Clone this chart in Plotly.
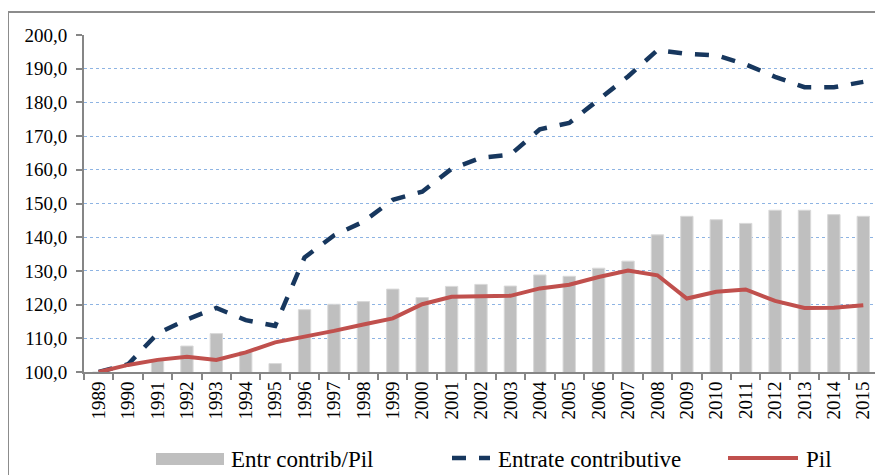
import plotly.graph_objects as go

years = [str(y) for y in range(1989, 2016)]
entr_pil = [100.0, 99.7, 103.5, 107.7, 111.4, 106.0, 102.5, 118.5, 120.1, 120.9,
            124.6, 122.1, 125.4, 126.0, 125.5, 128.8, 128.4, 130.8, 132.9, 140.7,
            146.2, 145.2, 144.1, 148.0, 148.0, 146.7, 146.2]
entrate = [100.0, 102.3, 111.4, 115.6, 119.0, 115.4, 113.7, 134.0, 140.5, 144.6,
           151.1, 153.5, 160.3, 163.6, 164.5, 172.0, 173.9, 180.7, 187.7, 195.5,
           194.4, 194.0, 191.3, 187.6, 184.5, 184.5, 186.1]
pil = [100.0, 102.1, 103.6, 104.5, 103.6, 105.8, 108.8, 110.4, 112.2, 114.1,
       115.9, 120.1, 122.3, 122.5, 122.6, 124.8, 125.9, 128.2, 130.1, 128.7,
       121.8, 123.8, 124.5, 121.1, 119.0, 119.1, 119.8]
y_ticks = [100, 110, 120, 130, 140, 150, 160, 170, 180, 190, 200]

# page body has an 8px margin; work in screen pixels and offset
OFF = 8
W, H = 883 - OFF, 475 - OFF
L, R, T, B = 84 - OFF, 5, 35 - OFF, 103
PW, PH = W - L - R, H - T - B

def px(x):
    return (x - OFF - L) / PW

def py(y):
    return (H - B - (y - OFF)) / PH

FONT = "Liberation Serif"
BAR_C = "#BFBFBF"
NAVY = "#17375E"
RED = "#C0504D"

fig = go.Figure()
fig.add_trace(go.Bar(x=years, y=entr_pil, name="Entr contrib/Pil",
                     marker=dict(color=BAR_C, line=dict(color="#D9D9D9", width=1)),
                     showlegend=False))
fig.add_trace(go.Scatter(x=years, y=entrate, name="Entrate contributive", mode="lines",
                         line=dict(color=NAVY, width=4.5, dash="14px,13px"),
                         showlegend=False))
fig.add_trace(go.Scatter(x=years, y=pil, name="Pil", mode="lines",
                         line=dict(color=RED, width=4),
                         showlegend=False))

shapes = [
    # outer chart border (cut off at right and bottom)
    dict(type="rect", xref="paper", yref="paper", x0=px(8), x1=px(883 + 20),
         y0=py(475 + 20), y1=py(12), line=dict(color="#8C8C8C", width=2), layer="below"),
    # legend swatches
    dict(type="rect", xref="paper", yref="paper", x0=px(156), x1=px(224),
         y0=py(465), y1=py(453), fillcolor=BAR_C, line=dict(width=0)),
    dict(type="line", xref="paper", yref="paper", x0=px(452), x1=px(490),
         y0=py(458), y1=py(458), line=dict(color=NAVY, width=4.5, dash="14px,13px")),
    dict(type="line", xref="paper", yref="paper", x0=px(728), x1=px(798),
         y0=py(458), y1=py(458), line=dict(color=RED, width=4)),
]

annotations = [
    dict(text="Entr contrib/Pil", x=px(229), y=py(459)),
    dict(text="Entrate contributive", x=px(496), y=py(459)),
    dict(text="Pil", x=px(804), y=py(459)),
]
for a in annotations:
    a.update(xref="paper", yref="paper", xanchor="left", yanchor="middle",
             showarrow=False, font=dict(family=FONT, size=23, color="black"))

fig.update_layout(
    width=W, height=H,
    margin=dict(l=L, r=R, t=T, b=B),
    paper_bgcolor="white", plot_bgcolor="white",
    separators=",.",
    bargap=0.58,
    shapes=shapes,
    annotations=annotations,
    font=dict(family=FONT, color="black"),
)
fig.update_xaxes(
    type="category", showline=True, linecolor="#868686", linewidth=2,
    ticks="outside", tickson="boundaries", ticklen=6, tickcolor="#868686", tickwidth=2,
    tickangle=-90, tickfont=dict(family=FONT, size=19, color="black"),
    showgrid=False, fixedrange=True,
)
fig.update_yaxes(
    range=[100, 200], tickvals=y_ticks, tickformat=".1f",
    showline=True, linecolor="#868686", linewidth=2,
    ticks="outside", ticklen=6, tickcolor="#868686", tickwidth=2,
    tickfont=dict(family=FONT, size=19, color="black"),
    showgrid=True, gridcolor="#8EB4E3", gridwidth=1, griddash="dot",
    zeroline=False, ticklabelstandoff=5,
)

fig.write_html("out.html")
